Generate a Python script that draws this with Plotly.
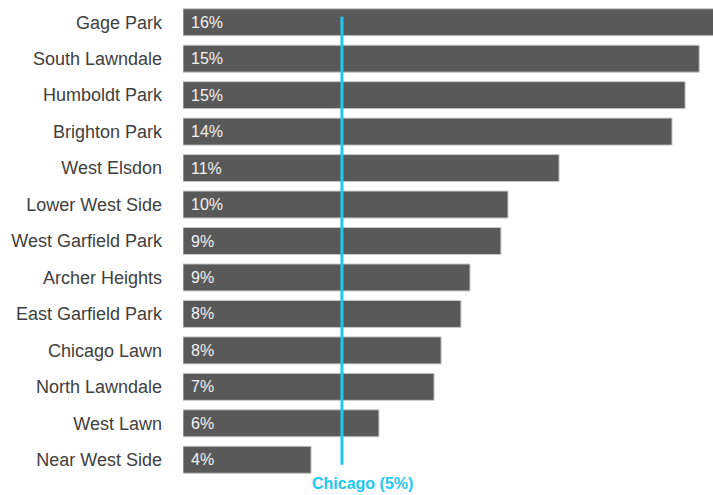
import plotly.graph_objects as go

neighborhoods = ["Gage Park", "South Lawndale", "Humboldt Park", "Brighton Park", "West Elsdon",
                 "Lower West Side", "West Garfield Park", "Archer Heights", "East Garfield Park",
                 "Chicago Lawn", "North Lawndale", "West Lawn", "Near West Side"]
values = [16.2, 15.36, 14.94, 14.55, 11.19, 9.67, 9.46, 8.54, 8.27, 7.68, 7.47, 5.83, 3.81]
value_labels = ["16%", "15%", "15%", "14%", "11%", "10%", "9%", "9%", "8%", "8%", "7%", "6%", "4%"]
chicago_value = 4.73
chicago_label = "Chicago (5%)"

fig = go.Figure()
fig.add_trace(go.Bar(
    x=values, y=neighborhoods, orientation="h",
    marker=dict(color="#595959", line=dict(color="#c8c8c8", width=1)),
    hoverinfo="skip",
))

for name, lab in zip(neighborhoods, value_labels):
    fig.add_annotation(x=0, y=name, text=lab, showarrow=False, xanchor="left", xshift=6,
                       font=dict(family="Liberation Sans", size=16, color="#f2f2f2"))

fig.add_shape(type="line", xref="x", yref="paper", x0=chicago_value, x1=chicago_value,
              y0=0.028, y1=0.973, line=dict(color="#1ec8f0", width=3), layer="above")
fig.add_annotation(x=chicago_value, xref="x", y=0, yref="paper", yanchor="middle", yshift=-5,
                   xanchor="center", xshift=21, text="<b>" + chicago_label + "</b>", showarrow=False,
                   font=dict(family="Liberation Sans", size=16, color="#1ec8f0"))

fig.update_layout(
    width=713, height=495,
    margin=dict(l=183, r=0, t=4, b=17),
    paper_bgcolor="white", plot_bgcolor="white",
    bargap=0.26,
    showlegend=False,
    xaxis=dict(range=[0, 15.77], visible=False, fixedrange=True),
    yaxis=dict(autorange="reversed", showgrid=False, showline=False, ticks="",
               ticklabelstandoff=20, automargin=False,
               tickfont=dict(family="Liberation Sans", size=18, color="#404040")),
)
fig.write_html("out.html", config={"displayModeBar": False},
               post_script="document.body.style.margin='0px';document.body.style.overflow='hidden';")
